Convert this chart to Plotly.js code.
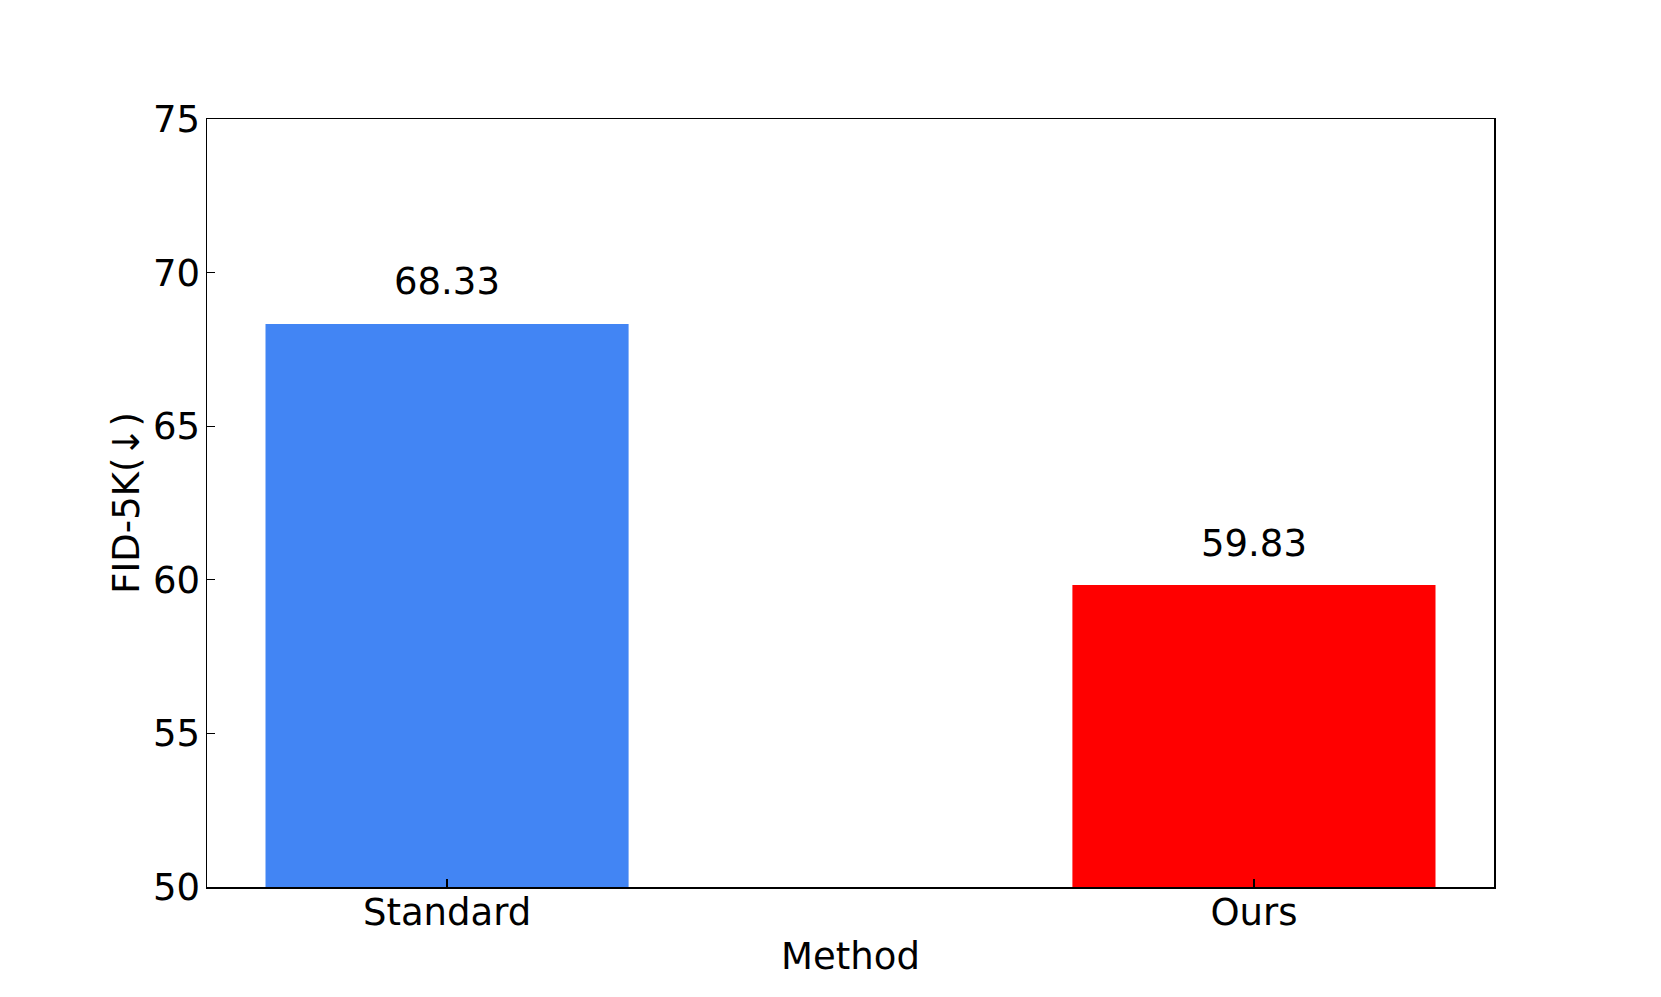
<!DOCTYPE html>
<html>
<head>
<meta charset="utf-8">
<script src="https://cdn.plot.ly/plotly-3.0.1.min.js"></script>
<style>html,body{margin:0;padding:0;background:#fff;}</style>
</head>
<body>
<div id="chart" style="width:1661px;height:997px;"></div>
<script>
const methods = ["Standard", "Ours"];
const fidValues = [68.33, 59.83];
const barColors = ["#4285F4", "#FF0000"];
const yTicks = [50, 55, 60, 65, 70, 75];

const FONT = "DejaVu Sans, sans-serif";
const FS = 37;

const trace = {
  type: "bar",
  x: methods,
  y: fidValues,
  width: 0.45,
  marker: {color: barColors, line: {width: 0}},
  hoverinfo: "x+y"
};

const annotations = methods.map((m, i) => ({
  x: m, y: fidValues[i], xref: "x", yref: "y",
  text: fidValues[i].toFixed(2),
  showarrow: false,
  yanchor: "middle",
  yshift: 42,
  font: {family: FONT, size: FS, color: "#000"}
}));

const layout = {
  width: 1661, height: 997,
  margin: {l: 207, r: 167, t: 119, b: 110},
  paper_bgcolor: "#fff", plot_bgcolor: "#fff",
  showlegend: false,
  font: {family: FONT, color: "#000", size: FS},
  xaxis: {
    type: "category",
    range: [-0.2975, 1.2975],
    showline: true, linecolor: "#000", linewidth: 1.5, mirror: true,
    ticks: "inside", ticklen: 8, tickwidth: 1.3, tickcolor: "#000",
    ticklabelstandoff: -8,
    showgrid: false, zeroline: false,
    tickfont: {family: FONT, size: FS, color: "#000"},
    title: {text: "Method", font: {family: FONT, size: FS, color: "#000"}, standoff: 10}
  },
  yaxis: {
    range: [50, 75],
    tickvals: yTicks,
    ticktext: yTicks.map(String),
    showline: true, linecolor: "#000", linewidth: 1.5, mirror: true,
    ticks: "inside", ticklen: 8, tickwidth: 1.3, tickcolor: "#000",
    ticklabelstandoff: -2,
    showgrid: false, zeroline: false,
    tickfont: {family: FONT, size: FS, color: "#000"},
    title: {text: "FID-5K(↓)", font: {family: FONT, size: FS, color: "#000"}, standoff: 2}
  },
  annotations: annotations
};

Plotly.newPlot("chart", [trace], layout, {displayModeBar: false, staticPlot: true});
</script>
</body>
</html>
